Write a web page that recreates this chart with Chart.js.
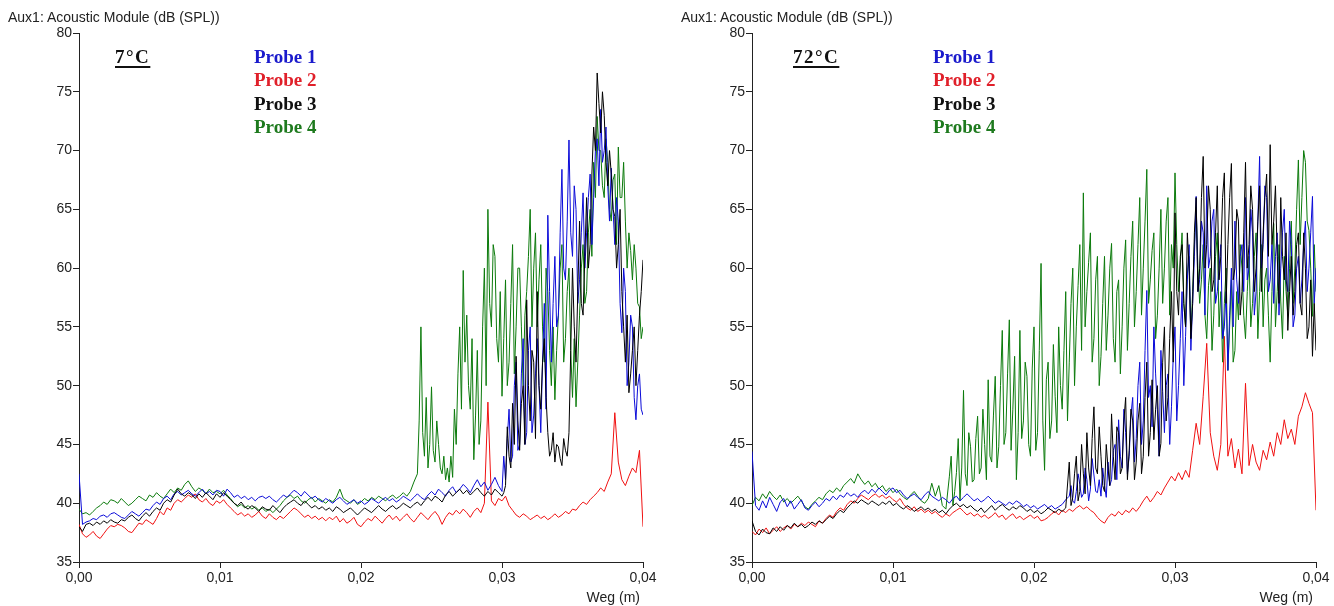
<!DOCTYPE html>
<html>
<head>
<meta charset="utf-8">
<script src="https://cdn.jsdelivr.net/npm/chart.js@4.4.1/dist/chart.umd.min.js"></script>
<style>
  html, body { margin: 0; padding: 0; background: #fff; }
  body { width: 1334px; height: 606px; position: relative; overflow: hidden; }
  canvas { position: absolute; top: 0; }
  .title { position: absolute; font-family: "Liberation Sans", Arial, sans-serif; font-size: 14px; color: #222; white-space: nowrap; line-height: 1; }
  .axt { position: absolute; font-family: "Liberation Sans", Arial, sans-serif; font-size: 14px; color: #222; white-space: nowrap; line-height: 1; }
  .temp { position: absolute; font-family: "Liberation Serif", "Times New Roman", serif; font-weight: bold; font-size: 19px; letter-spacing: 1.5px; color: #111; text-decoration: underline; text-decoration-thickness: 2px; text-underline-offset: 3px; line-height: 1; white-space: nowrap; }
  .leg { position: absolute; font-family: "Liberation Serif", "Times New Roman", serif; font-weight: bold; font-size: 19px; line-height: 1; white-space: nowrap; }
</style>
</head>
<body>
<canvas id="c1" width="667" height="606" style="left:0px;width:667px;height:606px"></canvas>
<canvas id="c2" width="667" height="606" style="left:667px;width:667px;height:606px"></canvas>
<div id="overlay"></div>
<script>
// ---------- DATA ----------
const panelTitles = ['7°C', '72°C'];
const axisTitleY = 'Aux1: Acoustic Module (dB (SPL))';
const axisTitleX = 'Weg (m)';
const seriesNames = ['Probe 1', 'Probe 2', 'Probe 3', 'Probe 4'];
const xTickLabels = ['0,00', '0,01', '0,02', '0,03', '0,04'];
const yTickLabels = ['35', '40', '45', '50', '55', '60', '65', '70', '75', '80'];

// sample positions along the path (m), 0.00025 m spacing
const STEP = 0.00025;
const weg = Array.from({length: 161}, (_, i) => +(i * STEP).toFixed(6));

// ===== 7°C =====
const cold_probe1 = [
42.5,38.2,38.4,38.5,38.7,38.6,38.9,39.0,38.8,39.1,
39.2,39.0,38.8,38.7,39.0,39.3,39.1,38.9,39.2,39.5,
39.4,39.8,40.1,39.9,40.4,40.6,40.3,40.8,41.0,40.7,
40.9,41.1,40.8,40.6,40.9,41.2,40.8,41.0,40.7,41.1,
41.0,40.6,41.2,40.9,40.5,40.7,40.4,40.6,40.3,40.5,
40.2,40.5,40.6,40.4,40.6,40.3,40.1,40.4,40.7,40.5,
40.8,41.1,40.9,40.6,41.0,40.7,40.4,40.6,40.3,40.1,
40.4,40.2,40.0,40.3,40.5,40.2,39.9,40.1,40.3,40.0,
40.2,39.9,40.1,40.4,40.2,40.0,40.3,40.5,40.2,40.4,
40.1,40.3,40.6,40.4,40.2,40.5,40.8,40.5,40.3,40.7,
41.0,40.7,41.2,40.9,40.6,41.1,41.4,40.9,41.2,41.6,
41.3,40.9,41.5,42.0,41.4,41.8,41.1,41.6,42.2,41.5,
41.0,42.0,48.0,44.0,52.0,45.0,54.0,46.0,55.0,47.5,
54.0,46.0,57.0,64.5,52.0,61.0,56.0,68.4,59.0,70.9,
61.0,65.0,59.0,66.4,63.0,68.0,66.0,71.0,73.5,70.0,
67.0,68.5,62.0,64.0,54.5,58.0,52.0,55.0,47.1,51.0,47.5
];
// extra half-step samples (between sample i and i+1) from sample 120 on
const cold_probe1_mid = [
44.0,45.5,43.5,50.0,44.5,51.0,45.0,53.0,46.0,51.0,
50.0,52.0,48.0,58.0,57.0,55.0,63.0,60.0,64.0,63.0,
67.0,57.0,63.0,60.0,66.0,62.0,70.0,67.0,69.0,72.0,
64.0,65.0,66.0,57.0,60.0,50.0,56.0,49.0,50.0,48.0
];
const cold_probe2 = [
38.2,37.4,37.1,37.3,37.6,37.2,37.0,37.4,37.8,38.1,
38.0,38.2,38.1,37.9,37.6,37.5,37.9,38.3,38.2,38.6,
38.4,38.2,38.7,39.3,39.0,39.6,39.4,40.0,40.3,40.1,
40.4,40.7,40.5,40.8,40.3,40.1,40.4,40.0,39.8,40.2,
40.0,40.3,39.9,39.6,39.3,39.0,39.2,38.9,39.1,38.8,
39.0,39.3,38.9,38.7,39.1,38.8,38.6,38.9,38.7,39.0,
39.3,39.6,39.4,39.1,38.8,39.0,38.7,38.9,38.6,38.8,
38.5,38.8,38.6,38.9,38.4,38.7,38.3,38.5,38.8,38.2,
38.0,38.4,38.7,38.5,38.9,38.6,38.3,38.7,39.0,38.6,
38.9,38.5,38.8,39.1,38.7,38.4,38.8,39.2,38.9,38.6,
39.0,39.3,38.9,38.2,38.8,39.2,39.0,39.4,39.1,39.5,
39.2,38.8,39.3,39.6,39.2,40.0,48.6,40.2,39.8,40.4,
40.2,40.6,39.8,39.4,39.0,38.8,39.1,38.9,38.6,38.8,
39.0,38.7,38.9,38.6,38.8,39.1,38.8,39.0,39.3,39.1,
39.5,39.4,39.8,40.1,39.9,40.3,40.6,40.9,41.3,41.0,
41.8,42.5,47.7,43.5,42.0,41.5,42.3,43.0,42.6,44.5,38.0
];
const cold_probe3 = [
38.0,37.6,38.2,38.3,38.1,38.4,38.2,38.5,38.3,38.6,
38.4,38.3,38.6,38.5,38.8,39.0,38.7,38.5,38.9,39.2,
38.9,39.3,39.6,39.4,40.0,40.3,40.1,40.7,41.2,40.8,
40.6,40.9,40.7,40.4,40.8,40.5,40.9,40.6,40.3,40.8,
40.5,40.9,40.6,40.3,40.0,39.8,40.1,39.7,39.5,39.8,
39.6,39.3,39.7,39.5,39.4,39.8,39.5,39.2,39.6,39.9,
40.1,40.3,40.0,39.8,40.2,39.9,39.6,39.8,39.5,39.7,
39.4,39.6,39.3,39.7,39.5,39.2,39.4,39.6,39.3,39.0,
39.3,39.6,39.4,39.2,39.5,39.8,39.5,39.3,39.6,39.8,
39.5,39.7,40.0,39.8,39.6,39.9,40.1,39.8,40.2,40.5,
40.2,40.6,40.4,40.1,40.7,41.0,40.6,40.9,41.2,40.8,
41.1,40.7,41.0,41.3,40.9,40.6,41.0,40.7,41.2,40.9,
40.6,41.5,44.0,48.5,52.5,44.5,50.0,57.3,47.0,52.0,
58.0,48.0,54.0,46.0,44.5,43.5,44.8,43.2,44.5,46.0,
60.0,52.0,64.0,56.0,66.0,62.0,72.0,76.6,71.5,73.0,
67.0,68.0,64.4,62.0,58.0,52.0,49.4,53.0,50.0,56.0,60.7
];
const cold_probe3_mid = [
40.9,46.5,43.0,45.0,47.0,48.5,45.0,50.0,53.0,45.5,
50.0,52.0,49.0,44.0,46.0,45.0,43.8,45.5,44.0,53.0,
55.0,58.0,57.0,61.0,60.0,68.0,70.0,74.0,75.0,69.0,
70.0,65.0,60.0,65.0,55.0,56.0,51.0,55.0,53.0,58.0
];
const cold_probe4 = [
39.5,39.1,39.2,39.0,39.3,39.6,39.8,40.1,39.9,40.3,
40.2,40.0,40.4,40.1,39.8,40.0,40.3,40.6,40.4,40.2,
40.7,40.5,40.9,40.6,40.4,40.8,41.2,40.9,41.3,41.1,
41.6,41.9,41.4,41.0,41.3,41.1,40.8,41.2,40.9,41.0,
40.8,41.1,40.7,40.4,40.0,39.7,39.9,39.6,39.8,39.5,
39.7,39.4,39.6,39.3,39.5,39.2,39.5,39.8,40.2,40.5,
40.7,40.4,40.6,40.2,40.0,40.3,40.5,40.1,40.4,40.2,
40.0,40.3,40.1,40.5,41.2,40.4,40.2,40.0,40.3,39.9,
40.1,40.4,40.2,40.5,40.3,40.6,40.4,40.2,40.5,40.7,
40.4,40.6,40.9,40.6,41.0,41.8,42.5,55.0,44.0,43.0,
49.9,43.5,45.0,42.5,42.0,41.8,42.2,45.0,55.0,59.8,
56.0,48.0,43.7,53.0,47.0,60.0,65.0,55.0,61.0,52.0,
49.1,59.0,52.0,62.0,55.0,60.0,50.0,58.0,65.0,60.0,
55.0,62.0,52.0,58.0,50.0,48.8,56.0,62.0,54.0,60.0,
49.0,48.2,56.0,62.0,58.0,65.0,69.0,72.9,70.0,66.0,
69.0,64.0,68.0,70.3,66.0,64.0,63.0,59.0,60.0,56.7,55.0
];
// half-step samples from sample 96 on
const cold_probe4_mid = [
47.0,46.0,49.0,45.0,
44.5,47.0,43.0,44.0,43.0,44.0,48.0,51.0,48.0,52.0,
50.0,54.0,47.5,45.0,55.0,50.0,57.0,62.0,54.0,58.0,
54.0,50.0,57.0,51.0,60.0,55.0,56.0,61.0,55.0,63.0,
59.0,55.0,60.0,53.0,55.0,53.0,60.0,52.0,58.0,53.0,
54.0,52.0,60.0,57.0,63.0,61.0,66.0,70.0,67.0,71.0,
65.0,67.5,62.0,66.0,69.0,60.0,61.5,62.0,57.0,54.0
];

// ===== 72°C =====
const warm_probe1 = [
44.4,39.8,39.4,40.2,39.6,40.5,39.9,39.3,40.1,40.4,
39.7,40.2,39.5,39.9,40.3,39.6,39.4,39.8,40.1,39.7,
40.0,40.4,40.2,40.6,40.3,40.7,40.5,40.9,40.6,40.8,
40.5,40.9,41.1,40.8,41.2,40.9,41.3,41.0,40.7,41.1,
41.3,40.9,41.1,40.7,40.4,40.6,40.8,40.5,40.3,40.7,
41.0,40.6,40.4,40.2,40.5,40.3,40.0,40.4,40.6,40.2,
40.5,40.8,40.5,40.2,40.4,40.1,40.3,40.6,40.3,40.0,
40.2,40.0,39.8,40.1,39.9,40.2,40.0,39.7,39.9,39.6,
39.8,39.5,39.7,39.9,39.6,39.8,39.5,39.7,39.9,40.3,
40.6,40.2,41.0,41.6,40.8,42.0,41.2,42.4,40.9,40.6,
41.5,43.5,42.0,45.0,47.1,43.0,46.0,44.0,49.0,45.5,
52.0,47.0,58.1,50.0,55.0,48.0,53.0,46.0,51.0,48.2,
55.0,50.0,58.0,54.2,62.0,57.0,66.1,59.0,63.0,67.0,
61.0,65.0,58.0,62.0,55.0,51.3,60.0,64.0,57.0,62.0,
66.0,60.0,63.0,58.0,69.5,62.0,66.0,59.0,57.0,63.0,
60.0,65.0,58.0,62.0,56.0,61.0,59.0,64.0,60.0,66.1,60.0
];
// half-step samples from sample 90 on
const warm_probe1_mid = [
41.5,40.0,42.5,40.5,43.0,40.2,43.8,41.0,42.0,43.0,
40.5,41.5,44.5,42.0,44.0,48.0,42.5,47.5,43.5,50.0,
45.0,53.0,49.0,46.5,51.0,44.0,49.5,50.0,45.0,52.5,
47.0,54.0,50.0,59.0,53.0,61.0,58.0,64.0,56.0,60.0,
64.0,57.0,60.0,54.0,58.0,56.0,55.0,59.0,61.0,58.0,
59.0,65.0,56.0,64.0,60.0,67.0,58.0,62.0,61.0,56.0,
63.0,59.0,64.0,55.0,60.0,57.0,62.0,58.0,63.0,57.0
];
const warm_probe2 = [
37.6,37.3,37.8,37.5,37.9,37.4,37.7,38.0,37.6,37.9,
38.1,37.8,38.2,38.0,38.3,38.1,38.4,38.2,38.0,38.5,
38.3,38.7,39.0,38.8,39.3,39.6,39.4,39.9,40.2,40.0,
40.4,40.7,40.5,40.3,40.6,40.8,40.5,40.7,40.4,40.6,
40.3,40.1,40.4,39.9,39.6,39.4,39.7,39.3,39.5,39.2,
39.4,39.1,39.3,39.0,38.8,39.1,38.9,39.2,39.4,39.6,
39.3,39.0,39.2,38.9,39.1,38.8,39.0,38.7,38.9,39.2,
38.8,39.0,38.6,38.9,39.1,38.7,38.9,38.6,38.8,39.0,
38.7,38.9,38.5,38.6,38.8,39.1,39.3,39.0,39.4,39.2,
39.5,39.3,39.6,39.8,39.5,39.7,39.4,39.2,38.8,38.5,
38.3,38.8,39.1,38.9,39.3,39.0,39.4,39.2,39.6,39.3,
39.7,40.2,40.6,40.1,40.5,41.0,40.7,41.3,41.8,42.3,
41.9,42.6,42.0,42.8,42.2,44.5,46.8,45.0,49.1,53.6,
46.0,44.0,42.8,45.0,54.2,44.0,45.5,43.0,44.6,42.5,
50.2,43.2,45.0,43.5,42.8,44.5,43.7,45.2,44.0,46.0,
45.0,47.1,45.5,46.3,45.0,47.4,48.2,49.4,48.5,47.7,39.4
];
const warm_probe3 = [
38.5,37.6,37.3,37.8,37.5,37.4,37.9,37.6,38.0,37.7,
38.1,37.9,38.3,38.0,38.2,37.9,38.1,38.4,38.2,38.5,
38.3,38.6,38.9,38.7,39.1,39.4,39.2,39.6,39.9,40.2,
40.0,40.3,40.1,39.9,40.2,40.0,39.8,40.1,39.9,40.2,
39.8,40.0,39.7,39.5,39.8,39.6,39.3,39.5,39.7,39.4,
39.6,39.3,39.5,39.2,39.4,39.1,39.5,39.8,40.0,39.7,
39.9,39.6,39.8,39.5,39.3,39.6,39.2,39.5,39.8,39.4,
39.7,39.9,39.6,39.4,39.7,39.5,39.8,39.6,39.3,39.5,
39.2,39.4,39.1,39.3,39.6,39.4,39.2,39.5,39.3,39.6,
43.5,40.5,44.0,41.0,42.5,46.0,41.5,48.2,42.5,44.0,
41.0,43.0,47.6,42.0,46.0,43.0,49.0,44.5,47.0,43.5,
48.5,44.0,52.0,46.0,45.4,50.0,45.1,55.0,49.0,58.0,
64.7,56.0,62.0,55.0,60.0,57.0,66.0,60.0,69.5,62.0,
65.0,59.0,67.0,61.0,68.1,62.0,68.9,60.0,64.0,58.0,
69.0,62.0,65.0,60.0,67.0,63.0,68.0,70.5,64.0,61.0,
66.0,59.0,54.7,61.0,58.0,63.0,56.0,60.0,55.0,52.5,53.0
];
const warm_probe3_mid = [
39.8,42.5,40.2,45.0,40.8,43.0,45.5,43.0,46.5,41.5,
45.0,41.5,44.0,46.5,42.5,47.0,42.0,48.0,42.0,47.0,
42.5,49.0,44.0,50.5,48.0,44.0,52.0,47.0,54.0,52.0,
58.0,61.0,57.0,63.0,54.0,63.0,58.0,66.0,60.0,67.0,
58.0,63.0,59.0,66.0,57.0,66.0,59.0,65.0,56.0,63.0,
60.0,67.0,58.0,64.0,58.0,66.0,61.0,62.0,67.0,57.0,
61.0,63.0,58.0,56.0,62.0,57.0,63.0,54.0,59.0,57.0
];
const warm_probe4 = [
39.8,40.5,40.2,40.8,40.4,41.0,40.6,40.3,40.7,40.1,
40.4,40.0,40.3,40.6,40.2,39.7,39.5,39.9,40.2,40.5,
40.3,40.8,41.1,40.9,41.3,41.0,41.5,41.8,42.1,41.7,
42.5,42.0,41.6,41.9,41.4,41.7,41.2,41.5,41.0,41.3,
40.9,41.2,40.8,40.5,40.3,40.7,41.0,40.6,40.2,40.0,
40.4,41.7,40.6,41.5,39.8,39.5,42.3,39.8,42.6,40.2,
49.6,41.5,44.8,42.0,47.4,43.0,45.0,50.5,43.5,50.8,
44.8,54.7,46.0,55.6,48.0,42.0,54.7,47.0,50.8,44.0,
55.0,46.0,60.4,42.8,52.0,47.0,49.1,55.0,48.0,58.0,
52.0,60.0,55.0,62.0,66.4,58.0,63.0,54.0,61.0,52.5,
61.0,56.0,62.1,52.0,59.0,55.0,62.4,57.0,64.0,58.0,
66.0,60.0,68.4,59.0,63.0,56.0,65.0,60.0,66.0,62.0,
68.1,58.0,63.0,55.0,61.0,58.0,65.2,57.0,62.0,54.0,
60.0,56.0,63.0,58.0,57.0,51.3,59.0,53.0,55.6,60.0,
54.0,61.0,57.0,63.0,58.0,55.0,60.0,52.0,63.8,58.0,
57.2,61.0,56.0,64.0,60.0,69.2,66.0,69.0,63.2,55.9,58.0
];
// half-step samples from sample 56 on
const warm_probe4_mid = [
44.0,41.0,45.5,43.0,42.5,46.0,41.8,45.5,42.5,48.0,
42.0,44.0,47.5,43.0,50.0,45.0,51.0,44.5,52.5,46.0,
45.5,52.0,45.0,51.5,44.5,53.0,47.0,50.5,45.5,53.5,
46.0,50.0,53.0,47.0,57.0,50.0,58.5,53.0,55.0,60.5,
52.0,59.0,50.0,57.0,53.0,60.0,54.0,58.0,51.0,60.0,
53.0,61.0,55.0,62.0,56.0,64.0,57.0,61.5,54.0,60.0,
57.0,64.0,56.0,60.0,62.0,60.5,57.0,59.5,54.0,62.0,
60.0,59.0,56.0,58.5,53.0,61.0,55.0,52.0,60.0,55.0,
52.0,58.0,62.0,56.0,58.0,55.0,61.0,54.0,62.0,59.0,
56.0,58.0,55.0,62.0,54.0,58.0,60.0,57.0,65.0,62.0,
70.0,64.0,60.0,62.0
];

const seriesColors = ['#0a0ad8', '#f01010', '#000000', '#0b7a0b'];
const legendColors = ['#1a1acc', '#e0202a', '#111111', '#1e7a1e'];
const drawOrder = [2, 4, 1, 3]; // lower = drawn on top

// ---------- LAYOUT ----------
const panels = [
  { canvas: 'c1', yAxisW: 79, padRight: 24,
    series: [[cold_probe1, cold_probe1_mid, 120], [cold_probe2, [], 0], [cold_probe3, cold_probe3_mid, 120], [cold_probe4, cold_probe4_mid, 96]],
    tempX: 115, legX: 254, titleX: 8, wegRight: 640 },
  { canvas: 'c2', yAxisW: 85, padRight: 18,
    series: [[warm_probe1, warm_probe1_mid, 90], [warm_probe2, [], 0], [warm_probe3, warm_probe3_mid, 90], [warm_probe4, warm_probe4_mid, 56]],
    tempX: 793, legX: 933, titleX: 681, wegRight: 1313 }
];
const TOP = 33, BOTTOM = 562, H = 606;

function pts(base, mid, start) {
  const out = [];
  base.forEach((v, i) => {
    out.push({ x: weg[i], y: v });
    const k = i - start;
    if (k >= 0 && k < mid.length) out.push({ x: weg[i] + STEP / 2, y: mid[k] });
  });
  return out;
}

const ov = document.getElementById('overlay');
function add(cls, text, left, top, color, extra) {
  const d = document.createElement('div');
  d.className = cls; d.textContent = text;
  d.style.left = left + 'px'; d.style.top = top + 'px';
  if (color) d.style.color = color;
  if (extra) Object.assign(d.style, extra);
  ov.appendChild(d);
}

panels.forEach((p, pi) => {
  const datasets = seriesNames.map((name, si) => ({
    label: name,
    data: pts(p.series[si][0], p.series[si][1], p.series[si][2]),
    borderColor: seriesColors[si],
    backgroundColor: seriesColors[si],
    borderWidth: 1,
    pointRadius: 0,
    tension: 0,
    fill: false,
    order: drawOrder[si]
  }));
  new Chart(document.getElementById(p.canvas), {
    type: 'line',
    data: { datasets },
    options: {
      responsive: false,
      animation: false,
      devicePixelRatio: 1,
      layout: { padding: { left: 0, top: TOP, right: p.padRight, bottom: 0 } },
      plugins: { legend: { display: false }, tooltip: { enabled: false }, title: { display: false } },
      scales: {
        x: {
          type: 'linear', min: 0, max: 0.04,
          afterFit: s => { s.height = H - BOTTOM; },
          afterBuildTicks: s => { s.ticks = xTickLabels.map((l, i) => ({ value: i * 0.01 })); },
          ticks: { autoSkip: false, maxRotation: 0, padding: 2, color: '#222',
                   font: { family: 'Liberation Sans', size: 14 },
                   callback: (v, i) => xTickLabels[i] },
          grid: { display: true, drawOnChartArea: false, drawTicks: true, tickLength: 6, color: '#222', lineWidth: 1 },
          border: { display: true, color: '#222', width: 1 }
        },
        y: {
          type: 'linear', min: 35, max: 80,
          afterFit: s => { s.width = p.yAxisW; },
          afterBuildTicks: s => { s.ticks = yTickLabels.map(l => ({ value: +l })); },
          ticks: { autoSkip: false, padding: 1, color: '#222',
                   font: { family: 'Liberation Sans', size: 14 },
                   callback: (v, i) => yTickLabels[i] },
          grid: { display: true, drawOnChartArea: false, drawTicks: true, tickLength: 6, color: '#222', lineWidth: 1 },
          border: { display: true, color: '#222', width: 1 }
        }
      }
    }
  });

  add('title', axisTitleY, p.titleX, 10);
  add('axt', axisTitleX, 0, 590, null, { left: 'auto', right: (1334 - p.wegRight) + 'px' });
  add('temp', panelTitles[pi], p.tempX, 47);
  seriesNames.forEach((n, si) => add('leg', n, p.legX, 47 + si * 23.3, legendColors[si]));
});
</script>
</body>
</html>
